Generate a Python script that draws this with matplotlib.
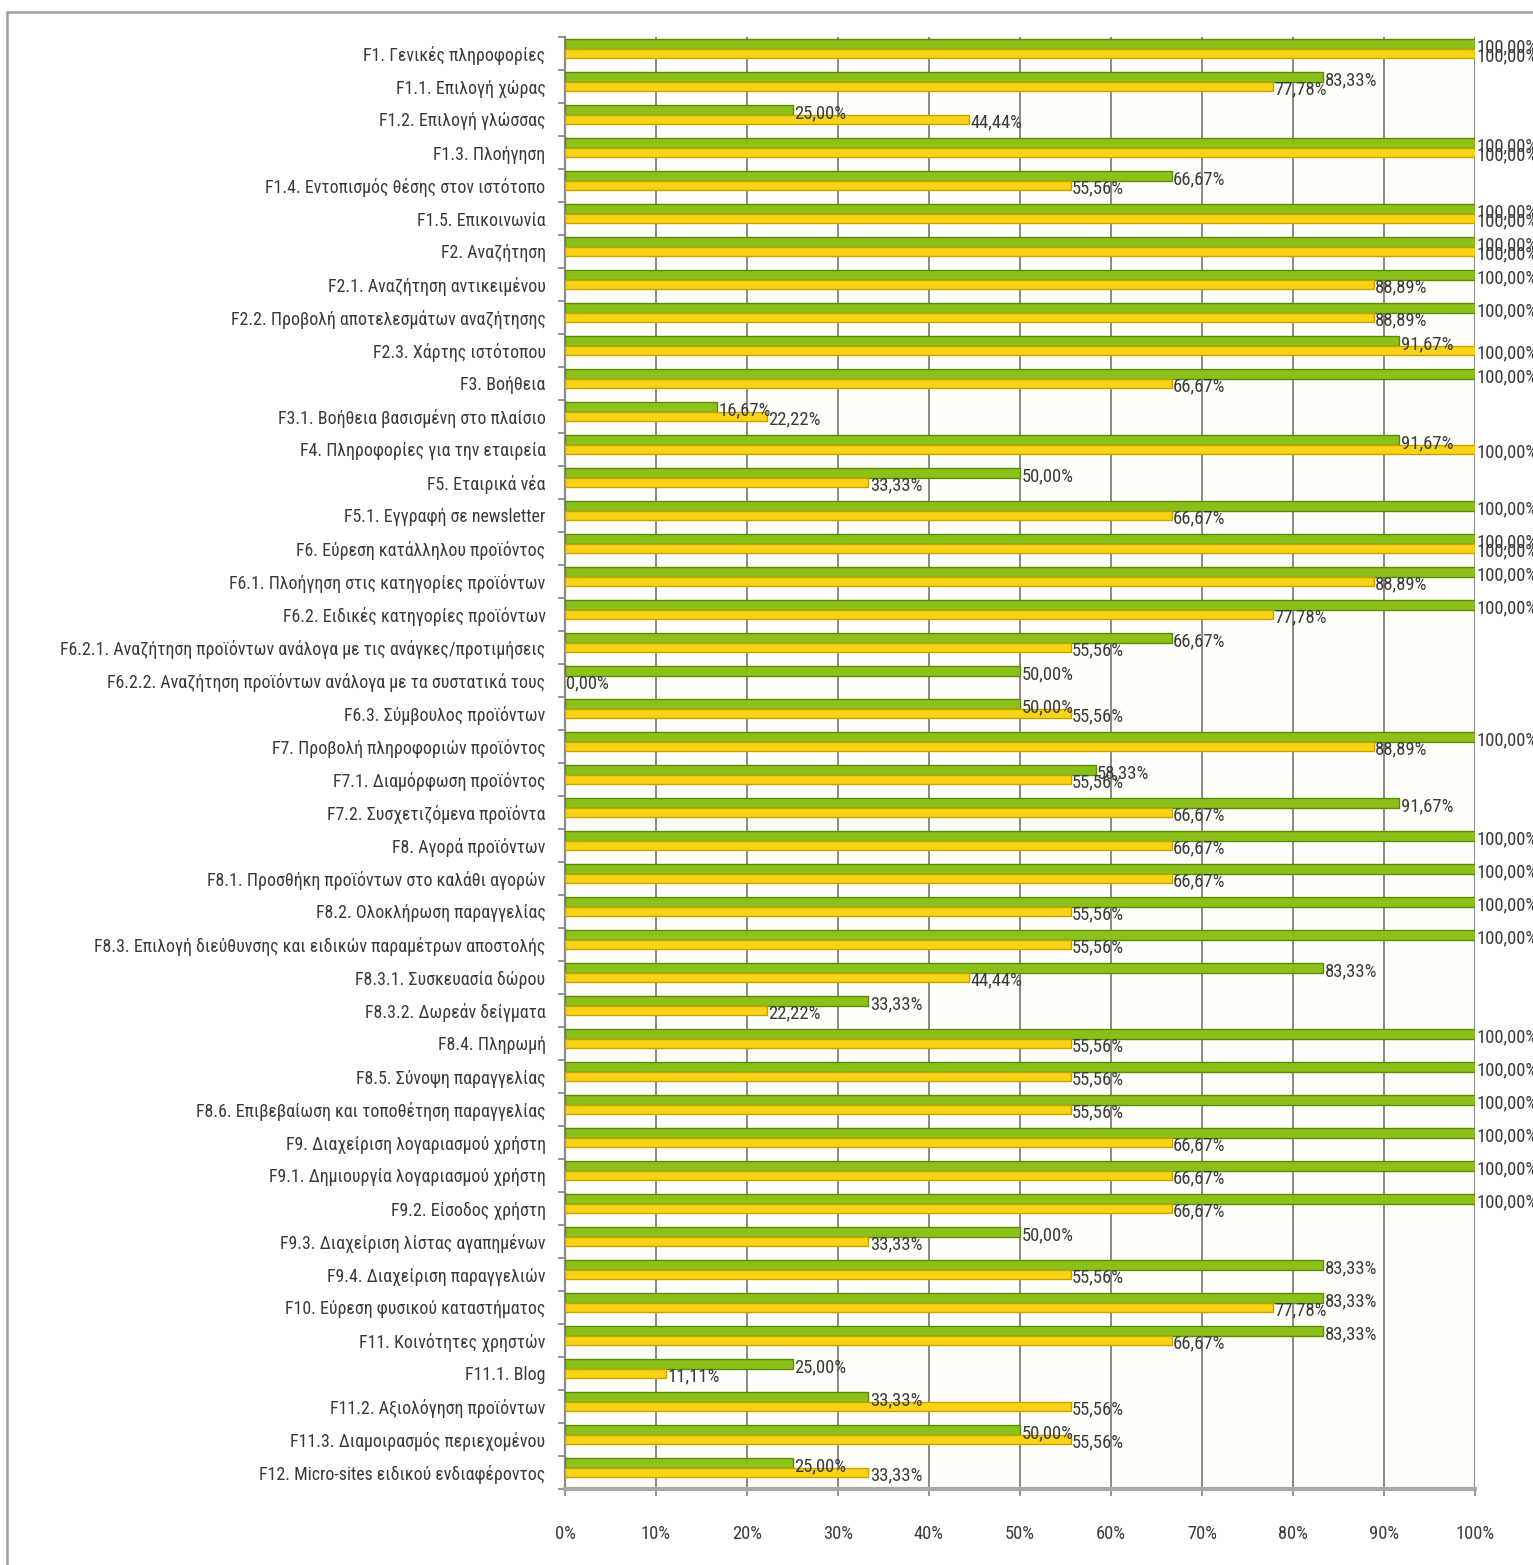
import matplotlib
matplotlib.use('Agg')
import matplotlib.pyplot as plt
from matplotlib import font_manager as fm
from matplotlib.patches import Rectangle
import numpy as np

categories = [
    "F1. Γενικές πληροφορίες",
    "F1.1. Επιλογή χώρας",
    "F1.2. Επιλογή γλώσσας",
    "F1.3. Πλοήγηση",
    "F1.4. Εντοπισμός θέσης στον ιστότοπο",
    "F1.5. Επικοινωνία",
    "F2. Αναζήτηση",
    "F2.1. Αναζήτηση αντικειμένου",
    "F2.2. Προβολή αποτελεσμάτων αναζήτησης",
    "F2.3. Χάρτης ιστότοπου",
    "F3. Βοήθεια",
    "F3.1. Βοήθεια βασισμένη στο πλαίσιο",
    "F4. Πληροφορίες για την εταιρεία",
    "F5. Εταιρικά νέα",
    "F5.1. Εγγραφή σε newsletter",
    "F6. Εύρεση κατάλληλου προϊόντος",
    "F6.1. Πλοήγηση στις κατηγορίες προϊόντων",
    "F6.2. Ειδικές κατηγορίες προϊόντων",
    "F6.2.1. Αναζήτηση προϊόντων ανάλογα με τις ανάγκες/προτιμήσεις",
    "F6.2.2. Αναζήτηση προϊόντων ανάλογα με τα συστατικά τους",
    "F6.3. Σύμβουλος προϊόντων",
    "F7. Προβολή πληροφοριών προϊόντος",
    "F7.1. Διαμόρφωση προϊόντος",
    "F7.2. Συσχετιζόμενα προϊόντα",
    "F8. Αγορά προϊόντων",
    "F8.1. Προσθήκη προϊόντων στο καλάθι αγορών",
    "F8.2. Ολοκλήρωση παραγγελίας",
    "F8.3. Επιλογή διεύθυνσης και ειδικών παραμέτρων αποστολής",
    "F8.3.1. Συσκευασία δώρου",
    "F8.3.2. Δωρεάν δείγματα",
    "F8.4. Πληρωμή",
    "F8.5. Σύνοψη παραγγελίας",
    "F8.6. Επιβεβαίωση και τοποθέτηση παραγγελίας",
    "F9. Διαχείριση λογαριασμού χρήστη",
    "F9.1. Δημιουργία λογαριασμού χρήστη",
    "F9.2. Είσοδος χρήστη",
    "F9.3. Διαχείριση λίστας αγαπημένων",
    "F9.4. Διαχείριση παραγγελιών",
    "F10. Εύρεση φυσικού καταστήματος",
    "F11. Κοινότητες χρηστών",
    "F11.1. Blog",
    "F11.2. Αξιολόγηση προϊόντων",
    "F11.3. Διαμοιρασμός περιεχομένου",
    "F12. Micro-sites ειδικού ενδιαφέροντος",
]

green = [100.00, 83.33, 25.00, 100.00, 66.67, 100.00, 100.00, 100.00, 100.00, 91.67,
         100.00, 16.67, 91.67, 50.00, 100.00, 100.00, 100.00, 100.00, 66.67, 50.00,
         50.00, 100.00, 58.33, 91.67, 100.00, 100.00, 100.00, 100.00, 83.33, 33.33,
         100.00, 100.00, 100.00, 100.00, 100.00, 100.00, 50.00, 83.33, 83.33, 83.33,
         25.00, 33.33, 50.00, 25.00]

yellow = [100.00, 77.78, 44.44, 100.00, 55.56, 100.00, 100.00, 88.89, 88.89, 100.00,
          66.67, 22.22, 100.00, 33.33, 66.67, 100.00, 88.89, 77.78, 55.56, 0.00,
          55.56, 88.89, 55.56, 66.67, 66.67, 66.67, 55.56, 55.56, 44.44, 22.22,
          55.56, 55.56, 55.56, 66.67, 66.67, 66.67, 33.33, 55.56, 77.78, 66.67,
          11.11, 55.56, 55.56, 33.33]

x_ticks = [0, 10, 20, 30, 40, 50, 60, 70, 80, 90, 100]
x_tick_labels = [f"{t}%" for t in x_ticks]

# pick a narrow font that is available
available = set(f.name for f in fm.fontManager.ttflist)
candidates = ['Liberation Sans Narrow', 'Roboto Condensed', 'Fira Sans Condensed',
              'Open Sans Condensed', 'IBM Plex Sans Condensed', 'Encode Sans Condensed',
              'Archivo Narrow', 'Ubuntu Condensed', 'Asap Condensed', 'Sofia Sans Condensed',
              'Noto Sans Display']
chosen = None
for c in candidates:
    if c in available:
        chosen = c
        break
FONT = ([chosen] if chosen else []) + ['DejaVu Sans']
plt.rcParams['font.family'] = FONT
TXT = '#3a3a3a'

W, H = 1533, 1565
fig = plt.figure(figsize=(W / 100, H / 100), dpi=100)
fig.patch.set_facecolor('white')
renderer = fig.canvas.get_renderer()


def size_for(text, target_px, base=13.0):
    t = fig.text(0, 0, text, fontsize=base)
    w = t.get_window_extent(renderer=renderer).width
    t.remove()
    return base * target_px / w


cat_fs = min(size_for(categories[18], 483), 14.5)
val_fs = min(size_for("83,33%", 52), 14.5)
tick_fs = min(size_for("100%", 39), 14.5)

ax = fig.add_axes([565 / W, 1 - 1489 / H, (1475 - 565) / W, (1489 - 37) / H])
ax.set_facecolor('#fffffa')

n = len(categories)
idx = np.arange(n)
bh = 0.28
g_y = idx - 0.29
y_y = idx - 0.01

ax.barh(g_y, green, height=bh, color='#8cc11a', edgecolor='#5c8a0a', linewidth=1.0, zorder=3)
ax.barh(y_y, yellow, height=bh, color='#f7d416', edgecolor='#c9a200', linewidth=1.0, zorder=3)


def fmt(v):
    return f"{v:.2f}%".replace('.', ',')


for yy, v in zip(g_y, green):
    ax.text(v + 0.15, yy + 0.09, fmt(v), va='center', ha='left', fontsize=val_fs,
            color=TXT, zorder=5, clip_on=False)
for yy, v in zip(y_y, yellow):
    ax.text(v + 0.15, yy + 0.1, fmt(v), va='center', ha='left', fontsize=val_fs,
            color=TXT, zorder=5, clip_on=False)

ax.set_xlim(0, 100)
ax.set_ylim(n - 0.5, -0.5)
ax.set_xticks(x_ticks)
ax.set_xticklabels(x_tick_labels, fontsize=tick_fs, color=TXT)
ax.set_yticks(idx)
ax.set_yticklabels(categories, fontsize=cat_fs, color=TXT)
ax.set_yticks(np.arange(n + 1) - 0.5, minor=True)
ax.tick_params(axis='y', which='major', length=0, pad=14)
ax.tick_params(axis='y', which='minor', length=5, color='#808080', width=1.2)
ax.tick_params(axis='x', which='major', length=5, color='#808080', width=1.2, pad=21)

ax.xaxis.grid(True, color='#7f7f7f', linewidth=1.3)
ax.set_axisbelow(True)

for s in ['top', 'right']:
    ax.spines[s].set_visible(False)
ax.spines['left'].set_color('#8a8a8a')
ax.spines['left'].set_linewidth(1.6)
ax.spines['bottom'].set_color('#a8a8a8')
ax.spines['bottom'].set_linewidth(3)

fig.add_artist(Rectangle((7 / W, -0.05), 1.0, 1.05 - 12 / H, fill=False,
                         edgecolor='#a0a0a0', linewidth=1.8, transform=fig.transFigure))

fig.savefig('out.png', dpi=100)
